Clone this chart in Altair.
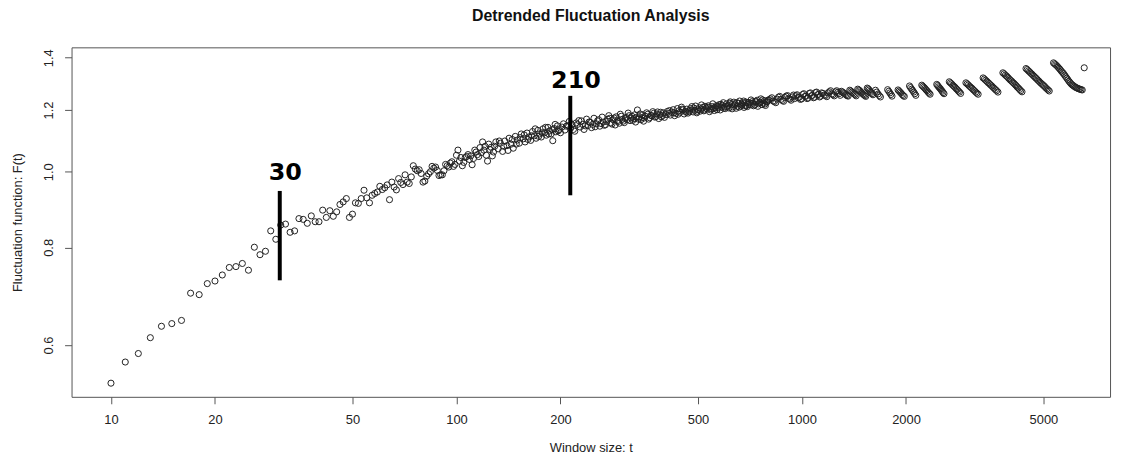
import altair as alt
import pandas as pd

# ---- data ----
t_a = [10, 11, 12, 13, 14, 15, 16, 17, 18, 19, 20, 21, 22, 23, 24, 25, 26, 27, 28, 29, 30,
       31, 32, 33, 34, 35, 36, 37, 38, 39, 40, 41, 42, 43, 44, 45, 46, 47, 48, 49, 50,
       51, 52, 53, 54, 55, 56]
f_a = [0.536, 0.5705, 0.585, 0.613, 0.634, 0.639, 0.645, 0.699, 0.696, 0.719, 0.7245,
       0.7375, 0.754, 0.756, 0.763, 0.748, 0.8005, 0.783, 0.791, 0.840, 0.8195,
       0.8545, 0.857, 0.8365, 0.840, 0.871, 0.869, 0.859, 0.878, 0.863, 0.863,
       0.893, 0.874, 0.8915, 0.877, 0.8885, 0.908, 0.915, 0.924, 0.874, 0.8825,
       0.9125, 0.911, 0.924, 0.947, 0.926, 0.9125]

t_b = [57, 58, 59, 60, 61, 62, 63, 64, 65, 66, 67, 68, 69, 70, 71, 72, 73, 74, 75, 76,
       77, 78, 79, 80, 81, 82, 83, 84, 85, 86, 87, 88, 89, 90, 91, 92, 93, 94, 95, 96,
       97, 98, 99, 100, 101, 102, 103, 104, 105, 106, 107, 108, 109, 110, 111, 112, 113,
       114, 115, 116, 117, 118, 119, 120, 121, 122, 123, 124, 125, 126, 127, 128, 129, 130]
f_b = [0.933, 0.938, 0.942, 0.958, 0.949, 0.954, 0.962, 0.921, 0.970, 0.956, 0.948, 0.980,
       0.969, 0.963, 0.991, 0.970, 0.966, 0.985, 1.018, 1.008, 1.003, 1.006, 0.995, 0.970,
       0.973, 0.987, 0.994, 1.000, 1.016, 1.011, 1.014, 1.004, 0.989, 0.991, 0.991, 1.003,
       1.022, 1.018, 1.014, 1.026, 1.030, 1.016, 1.022, 1.050, 1.066, 1.032, 1.043, 1.018,
       1.028, 1.043, 1.046, 1.052, 1.037, 1.048, 1.021, 1.040, 1.066, 1.060, 1.052, 1.046,
       1.074, 1.058, 1.092, 1.066, 1.078, 1.050, 1.032, 1.085, 1.068, 1.075, 1.048, 1.060,
       1.078, 1.092]

t_c = [132, 133, 134, 136, 137, 138, 140, 141, 142, 144, 145, 146, 148, 149, 150, 152, 153,
       154, 156, 157, 158, 160, 161, 162, 164, 165, 166, 168, 169, 170, 172, 173, 174, 176,
       177, 178, 180, 181, 182, 184, 185, 186, 188, 189, 190, 192, 193, 194, 196, 197, 198, 200]
f_c = [1.070, 1.095, 1.088, 1.062, 1.078, 1.095, 1.080, 1.065, 1.104, 1.085, 1.100, 1.072,
       1.110, 1.085, 1.098, 1.088, 1.106, 1.118, 1.102, 1.115, 1.092, 1.121, 1.100, 1.108,
       1.097, 1.112, 1.126, 1.112, 1.135, 1.104, 1.130, 1.110, 1.118, 1.108, 1.122, 1.135,
       1.122, 1.140, 1.114, 1.140, 1.118, 1.128, 1.118, 1.132, 1.096, 1.136, 1.150, 1.125,
       1.145, 1.128, 1.132, 1.122]

t_d = [204, 206, 208, 212, 214, 216, 220, 222, 226, 228, 232, 234, 238, 240, 244, 246, 250,
       254, 256, 260, 264, 266, 270, 274, 276, 280, 284, 288, 290, 294, 298, 302, 306, 310,
       314, 318, 322, 326, 330, 334, 338, 342, 346, 350, 355, 360, 365, 370, 375, 380, 385,
       390, 395, 400]
f_d = [1.152, 1.131, 1.144, 1.160, 1.137, 1.149, 1.127, 1.155, 1.163, 1.141, 1.150, 1.133,
       1.168, 1.146, 1.157, 1.139, 1.171, 1.152, 1.162, 1.144, 1.175, 1.158, 1.149, 1.168,
       1.180, 1.155, 1.166, 1.148, 1.176, 1.160, 1.185, 1.167, 1.156, 1.174, 1.189, 1.163,
       1.178, 1.170, 1.158, 1.200, 1.176, 1.166, 1.183, 1.172, 1.190, 1.168, 1.181, 1.194,
       1.175, 1.186, 1.170, 1.192, 1.181, 1.174]

t_h = [202, 210, 218, 224, 230, 236, 242, 248, 252, 258, 262, 268, 272, 278, 282, 286, 292,
       296, 300, 304, 308, 312, 316, 320, 324, 328, 332, 336, 340, 344, 348, 352, 358, 362,
       368, 372, 378, 382, 388, 392, 398, 404]
f_h = [1.141, 1.146, 1.133, 1.150, 1.162, 1.145, 1.158, 1.150, 1.142, 1.166, 1.153, 1.147,
       1.160, 1.171, 1.151, 1.172, 1.163, 1.154, 1.178, 1.161, 1.170, 1.166, 1.180, 1.172,
       1.164, 1.183, 1.174, 1.168, 1.186, 1.172, 1.161, 1.178, 1.185, 1.173, 1.179, 1.188,
       1.177, 1.193, 1.183, 1.176, 1.190, 1.184]

t_e = [408, 412, 416, 420, 424, 428, 432, 436, 440, 444, 448, 452, 456, 460, 464, 468, 472,
       476, 480, 484, 488, 492, 496, 500, 504, 508, 512, 516, 520, 524, 528, 532, 536, 540,
       544, 548, 552, 556, 560, 564, 568, 572, 576, 580, 584, 588, 592, 596, 600, 605, 610,
       615, 620, 625, 630, 635, 640, 645, 650, 655, 660, 665, 670, 675, 680, 685, 690, 695,
       700, 706, 712, 718, 724, 730, 736, 742, 748, 754, 760, 766, 772, 778, 784, 790, 796]
f_e = [1.195, 1.188, 1.182, 1.192, 1.201, 1.180, 1.188, 1.205, 1.197, 1.192, 1.210, 1.200,
       1.186, 1.196, 1.203, 1.189, 1.194, 1.205, 1.212, 1.193, 1.199, 1.214, 1.190, 1.201,
       1.208, 1.196, 1.218, 1.209, 1.197, 1.213, 1.206, 1.203, 1.215, 1.194, 1.200, 1.212,
       1.222, 1.205, 1.209, 1.215, 1.201, 1.208, 1.219, 1.200, 1.210, 1.217, 1.226, 1.212,
       1.205, 1.222, 1.216, 1.207, 1.229, 1.219, 1.211, 1.228, 1.222, 1.206, 1.213, 1.224,
       1.232, 1.214, 1.218, 1.226, 1.209, 1.217, 1.228, 1.212, 1.220, 1.225, 1.236, 1.230,
       1.215, 1.218, 1.229, 1.235, 1.222, 1.226, 1.240, 1.219, 1.225, 1.233, 1.216, 1.228,
       1.235]

t_i = [414, 426, 438, 450, 462, 474, 486, 498, 510, 522, 534, 546, 558, 570, 582, 594, 607,
       618, 628, 638, 648, 658, 668, 678, 688, 698, 709, 721, 733, 745, 757, 769, 781, 793]
f_i = [1.198, 1.190, 1.185, 1.203, 1.192, 1.199, 1.207, 1.195, 1.203, 1.200, 1.210, 1.205,
       1.198, 1.213, 1.220, 1.206, 1.212, 1.224, 1.204, 1.217, 1.226, 1.210, 1.221, 1.232,
       1.214, 1.227, 1.219, 1.224, 1.231, 1.213, 1.228, 1.236, 1.221, 1.230]

t_f = [810, 825, 840, 855, 870, 885, 900, 915, 930, 945, 960, 975, 990, 1005, 1020, 1035,
       1050, 1065, 1080, 1095, 1110, 1125, 1140, 1160, 1180, 1200, 1220, 1240, 1260, 1280,
       1300, 1320, 1340, 1360, 1375, 1395, 1415, 1435, 1450, 1470, 1490, 1510, 1530, 1545,
       1565, 1585, 1605]
f_f = [1.240, 1.232, 1.226, 1.246, 1.238, 1.231, 1.250, 1.242, 1.235, 1.254, 1.252, 1.244,
       1.238, 1.256, 1.249, 1.241, 1.260, 1.251, 1.244, 1.263, 1.255, 1.247, 1.262, 1.254,
       1.248, 1.266, 1.258, 1.251, 1.270, 1.259, 1.268, 1.262, 1.255, 1.250, 1.272, 1.265,
       1.258, 1.251, 1.276, 1.270, 1.262, 1.255, 1.249, 1.280, 1.273, 1.264, 1.255]

t_j = [803, 818, 832, 848, 862, 878, 892, 908, 922, 938, 952, 968, 982, 998, 1012, 1028,
       1042, 1058, 1072, 1088, 1102, 1118, 1132, 1150, 1170, 1190, 1210, 1230, 1250, 1270,
       1290, 1310, 1330, 1350, 1385, 1405, 1425, 1460, 1480, 1500, 1520, 1555, 1575, 1595]
f_j = [1.236, 1.244, 1.230, 1.239, 1.249, 1.234, 1.245, 1.252, 1.239, 1.247, 1.241, 1.255,
       1.246, 1.240, 1.259, 1.250, 1.243, 1.262, 1.253, 1.246, 1.265, 1.257, 1.250, 1.260,
       1.252, 1.262, 1.270, 1.255, 1.266, 1.264, 1.253, 1.265, 1.259, 1.252, 1.269, 1.262,
       1.255, 1.273, 1.266, 1.258, 1.252, 1.277, 1.268, 1.259]

# sawtooth groups at the large window sizes
t_g = [1632, 1646, 1660, 1674, 1687,
       1770, 1783, 1796, 1809, 1822,
       1897, 1910, 1923, 1936, 1950, 1964, 1978,
       2048, 2062, 2077, 2091, 2106, 2121, 2136,
       2222, 2237, 2253, 2269, 2285, 2301, 2317, 2333, 2349,
       2455, 2470, 2485, 2500, 2516, 2531, 2546, 2561, 2577,
       2669, 2689, 2710, 2731, 2752, 2773, 2794, 2815, 2836, 2857, 2879,
       2982, 3006, 3030, 3055, 3080, 3105, 3130, 3156, 3182, 3208, 3235,
       3344, 3372, 3400, 3428, 3456, 3485, 3514, 3543, 3572, 3601, 3631, 3661, 3692,
       3815, 3846, 3878, 3910, 3942, 3974, 4007, 4040, 4073, 4106, 4140, 4169, 4198, 4231,
       4265, 4299, 4334,
       4451, 4486, 4521, 4556, 4592, 4628, 4664, 4700, 4737, 4774, 4811, 4848, 4886, 4924,
       4962, 5000, 5039, 5078, 5117, 5156, 5196,
       5346, 5386, 5426, 5466, 5507, 5548, 5589, 5630, 5672, 5714, 5756, 5798, 5841, 5884,
       5927, 5970, 6014, 6058, 6102, 6146, 6191, 6236, 6282, 6328, 6374, 6424, 6474,
       6561]
f_g = [1.272, 1.265, 1.258, 1.252, 1.247,
       1.274, 1.268, 1.262, 1.256, 1.250,
       1.273, 1.269, 1.265, 1.261, 1.256, 1.252, 1.249,
       1.288, 1.282, 1.276, 1.271, 1.265, 1.259, 1.253,
       1.291, 1.287, 1.283, 1.279, 1.274, 1.270, 1.265, 1.261, 1.257,
       1.294, 1.290, 1.285, 1.281, 1.277, 1.272, 1.268, 1.263, 1.259,
       1.304, 1.300, 1.296, 1.291, 1.287, 1.283, 1.278, 1.274, 1.269, 1.265, 1.260,
       1.300, 1.296, 1.292, 1.287, 1.283, 1.279, 1.274, 1.270, 1.265, 1.261, 1.257,
       1.319, 1.315, 1.310, 1.306, 1.301, 1.297, 1.292, 1.288, 1.283, 1.279, 1.274, 1.270,
       1.265,
       1.339, 1.335, 1.330, 1.326, 1.321, 1.316, 1.311, 1.307, 1.302, 1.298, 1.293, 1.289,
       1.284, 1.280, 1.275, 1.270, 1.266,
       1.356, 1.352, 1.347, 1.343, 1.338, 1.334, 1.329, 1.325, 1.320, 1.316, 1.311, 1.307,
       1.302, 1.298, 1.294, 1.290, 1.286, 1.281, 1.277, 1.273, 1.269,
       1.379, 1.375, 1.371, 1.367, 1.362, 1.357, 1.352, 1.346, 1.341, 1.336, 1.330, 1.324,
       1.318, 1.312, 1.306, 1.301, 1.296, 1.292, 1.289, 1.286, 1.283, 1.281, 1.279, 1.277,
       1.276, 1.274, 1.273,
       1.359]

# annotation bars and their labels
bar_t = [30.8, 213.5]
bar_lo = [0.726, 0.933]
bar_hi = [0.945, 1.251]
label_text = ["30", "210"]
label_t = [31.97, 221.7]
label_f = [0.975, 1.279]

x_ticks = [10, 20, 50, 100, 200, 500, 1000, 2000, 5000]
y_ticks = [0.6, 0.8, 1.0, 1.2, 1.4]

pts = pd.DataFrame({
    "t": t_a + t_b + t_c + t_d + t_h + t_e + t_i + t_f + t_j + t_g,
    "F": f_a + f_b + f_c + f_d + f_h + f_e + f_i + f_f + f_j + f_g,
})
bars = pd.DataFrame({"t": bar_t, "F": bar_lo, "F2": bar_hi})
labels = pd.DataFrame({"t": label_t, "F": label_f, "txt": label_text})

xscale = alt.Scale(type="log", domain=[7.689, 7793], nice=False)
yscale = alt.Scale(type="log", domain=[0.51486, 1.44345], nice=False)

x_enc = alt.X("t:Q", scale=xscale, axis=alt.Axis(
    values=x_ticks, format="d", title="Window size: t",
    labelPadding=10, titleY=51, titleBaseline="middle"))
y_enc = alt.Y("F:Q", scale=yscale, axis=alt.Axis(
    values=y_ticks, format=".1f", title="Fluctuation function: F(t)",
    labelAngle=-90, labelAlign="center", labelBaseline="bottom", labelPadding=9,
    titleX=-54, titleY=176, titleAngle=-90, titleAlign="center", titleBaseline="middle"))

points = alt.Chart(pts).mark_point(
    shape="circle", filled=False, size=38, color="#222222", strokeWidth=1, opacity=1
).encode(x=x_enc, y=y_enc)

rules = alt.Chart(bars).mark_rule(color="#000000", strokeWidth=4).encode(
    x=alt.X("t:Q", scale=xscale),
    y=alt.Y("F:Q", scale=yscale),
    y2=alt.Y2("F2:Q"),
)

texts = alt.Chart(labels).mark_text(
    font="DejaVu Sans", fontSize=24, fontWeight="bold", color="#000000",
    align="center", baseline="alphabetic"
).encode(
    x=alt.X("t:Q", scale=xscale),
    y=alt.Y("F:Q", scale=yscale),
    text="txt:N",
)

chart = alt.layer(points, rules, texts).properties(
    width=1046, height=352,
    autosize="none",
    padding={"left": 64, "top": 38, "right": 7, "bottom": 62},
    title=alt.TitleParams("Detrended Fluctuation Analysis", font="Liberation Sans",
                          fontSize=16, fontWeight="bold", color="#111111",
                          anchor="middle", offset=24),
).configure_view(
    stroke="#555555", strokeWidth=1
).configure_axis(
    grid=False, domain=False, tickColor="#555555", tickSize=7, tickWidth=1,
    labelFont="Liberation Sans", labelFontSize=13, labelColor="#222222",
    titleFont="Liberation Sans", titleFontSize=13, titleFontWeight="normal",
    titleColor="#222222",
)

chart.save("out.html", embed_options={"renderer": "svg", "actions": False})
